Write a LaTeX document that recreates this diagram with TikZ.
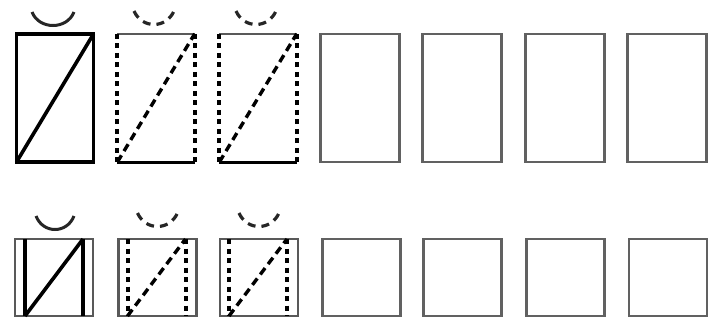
\documentclass[tikz,border=0pt]{standalone}
\begin{document}
\begin{tikzpicture}[x=1pt,y=-1pt,
  box/.style={draw=black!62,line width=2.6pt,inner sep=0pt,outer sep=0pt},
  thickbox/.style={draw=black,line width=3.8pt,inner sep=0pt,outer sep=0pt},
  thinbox/.style={draw=black!65,line width=2.2pt,inner sep=0pt,outer sep=0pt},
  solidline/.style={draw=black,line width=3.6pt},
  dashline/.style={draw=black,line width=3.4pt,dash pattern=on 8pt off 5pt},
  dotline/.style={draw=black,line width=4pt,dash pattern=on 5pt off 4.5pt},
  arcsolid/.style={draw=black!85,line width=3pt},
  arcdash/.style={draw=black!85,line width=3.2pt,dash pattern=on 8pt off 6pt},
  tall/.style={minimum width=77pt,minimum height=128pt},
  talll/.style={minimum width=79pt,minimum height=128pt},
  sq/.style={minimum width=78pt,minimum height=77pt}]
\useasboundingbox (0,0) rectangle (716,322);
% ---------- top row ----------
\node[thickbox,tall] (t1) at (55,98) {};
\draw[solidline] (t1.south west) -- (t1.north east);
\draw[arcsolid] (32,12) .. controls (39,30) and (67,30) .. (74,12);
\foreach \i/\cx/\ax in {2/156/154,3/258/256}{
  \node[minimum width=77pt,minimum height=128pt,inner sep=0pt] (t\i) at (\cx,98) {};
  \draw[thinbox,line width=2.6pt] (t\i.north west) -- (t\i.north east);
  \draw[solidline,line width=3.2pt] (t\i.south west) -- (t\i.south east);
  \draw[dotline] (t\i.north west) -- (t\i.south west);
  \draw[dotline] (t\i.north east) -- (t\i.south east);
  \draw[dashline] (t\i.south west) -- (t\i.north east);
  \draw[arcdash] (\ax-20,11) .. controls (\ax-12,29) and (\ax+12,29) .. (\ax+20,11);
}
\node[box,talll] (t4) at (360,98) {};
\node[box,talll] (t5) at (462,98) {};
\node[box,talll] (t6) at (565,98) {};
\node[box,talll] (t7) at (667,98) {};
% ---------- bottom row ----------
\node[thinbox,sq] (b1) at (54,277.5) {};
\coordinate (b1l) at ([xshift=10pt]b1.north west);
\coordinate (b1lb) at ([xshift=10pt]b1.south west);
\coordinate (b1r) at ([xshift=-10pt]b1.north east);
\coordinate (b1rb) at ([xshift=-10pt]b1.south east);
\draw[solidline] (b1l) -- (b1lb);
\draw[solidline] (b1r) -- (b1rb);
\draw[solidline] (b1lb) -- (b1r);
\draw[arcsolid] (36,216) .. controls (43,234) and (67,234) .. (74,216);
\foreach \i/\cx in {2/157.5,3/259}{
  \node[thinbox,sq] (b\i) at (\cx,277.5) {};
  \coordinate (b\i l) at ([xshift=9pt]b\i.north west);
  \coordinate (b\i lb) at ([xshift=9pt]b\i.south west);
  \coordinate (b\i r) at ([xshift=-11pt]b\i.north east);
  \coordinate (b\i rb) at ([xshift=-11pt]b\i.south east);
  \draw[dotline] (b\i l) -- (b\i lb);
  \draw[dotline] (b\i r) -- (b\i rb);
  \draw[dashline] (b\i lb) -- (b\i r);
  \draw[arcdash] (\cx-20,213) .. controls (\cx-12,231) and (\cx+12,231) .. (\cx+20,213);
}
\node[box,sq] (b4) at (361.5,277.5) {};
\node[box,sq] (b5) at (462.5,277.5) {};
\node[box,sq] (b6) at (565.5,277.5) {};
\node[box,sq] (b7) at (668,277.5) {};
\end{tikzpicture}
\end{document}
